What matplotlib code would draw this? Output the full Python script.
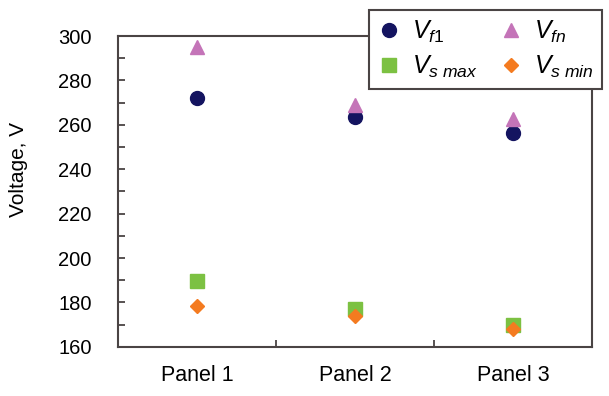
import matplotlib
matplotlib.use("Agg")
import matplotlib.pyplot as plt
import numpy as np
from matplotlib.ticker import MultipleLocator, FixedLocator

plt.rcParams['font.family'] = ['Liberation Sans', 'DejaVu Sans']
plt.rcParams['mathtext.fontset'] = 'custom'
plt.rcParams['mathtext.rm'] = 'Liberation Sans'
plt.rcParams['mathtext.it'] = 'Liberation Sans:italic'

panels = ['Panel 1', 'Panel 2', 'Panel 3']
v_f1 = [272, 263.5, 256.5]
v_fn = [295, 269, 262.5]
v_smax = [189.5, 177, 170]
v_smin = [178.5, 174, 168]

frame = '#4a4444'
fig = plt.figure(figsize=(6.09, 3.96), dpi=100)
ax = fig.add_axes([0.194, 0.124, 0.778, 0.785])

x = np.arange(len(panels)) + 0.5
h1, = ax.plot(x, v_f1, 'o', color='#141460', ms=10, label=r'$V_{f1}$', zorder=3)
h2, = ax.plot(x, v_fn, '^', color='#c474b8', ms=10, label=r'$V_{fn}$', zorder=3)
h3, = ax.plot(x, v_smax, 's', color='#7cc142', ms=9.5, label=r'$V_{s\ max}$', zorder=3)
h4, = ax.plot(x, v_smin, 'D', color='#f47b20', ms=7, label=r'$V_{s\ min}$', zorder=4)

ax.set_xlim(0, len(panels))
ax.set_ylim(160, 300)
ax.set_xticks(x)
ax.set_xticklabels(panels, fontsize=15.5)
ax.xaxis.set_minor_locator(FixedLocator(np.arange(1, len(panels))))
ax.tick_params(axis='x', which='major', length=0, pad=13)
ax.tick_params(axis='x', which='minor', direction='in', length=5, width=1.3, color=frame)
ax.yaxis.set_major_locator(MultipleLocator(20))
ax.yaxis.set_minor_locator(MultipleLocator(10))
ax.tick_params(axis='y', which='both', direction='in', length=5, width=1.3, color=frame,
               labelsize=14.5, pad=19)
for s in ax.spines.values():
    s.set_color(frame)
    s.set_linewidth(1.5)

ax.set_ylabel('Voltage, V', fontsize=15)
ax.yaxis.set_label_coords(-0.19, 0.57)

leg = fig.legend([h1, h3, h2, h4], [h.get_label() for h in (h1, h3, h2, h4)],
                 loc='upper left', bbox_to_anchor=(0.606, 0.975), ncol=2,
                 fontsize=18, frameon=True, fancybox=False, handlelength=0.9,
                 handletextpad=0.45, columnspacing=0.9, borderpad=0.35,
                 labelspacing=0.35, borderaxespad=0)
leg.get_frame().set_edgecolor(frame)
leg.get_frame().set_linewidth(1.5)
leg.get_frame().set_facecolor('white')
leg.get_frame().set_alpha(1)

fig.savefig('out.png', dpi=100)
